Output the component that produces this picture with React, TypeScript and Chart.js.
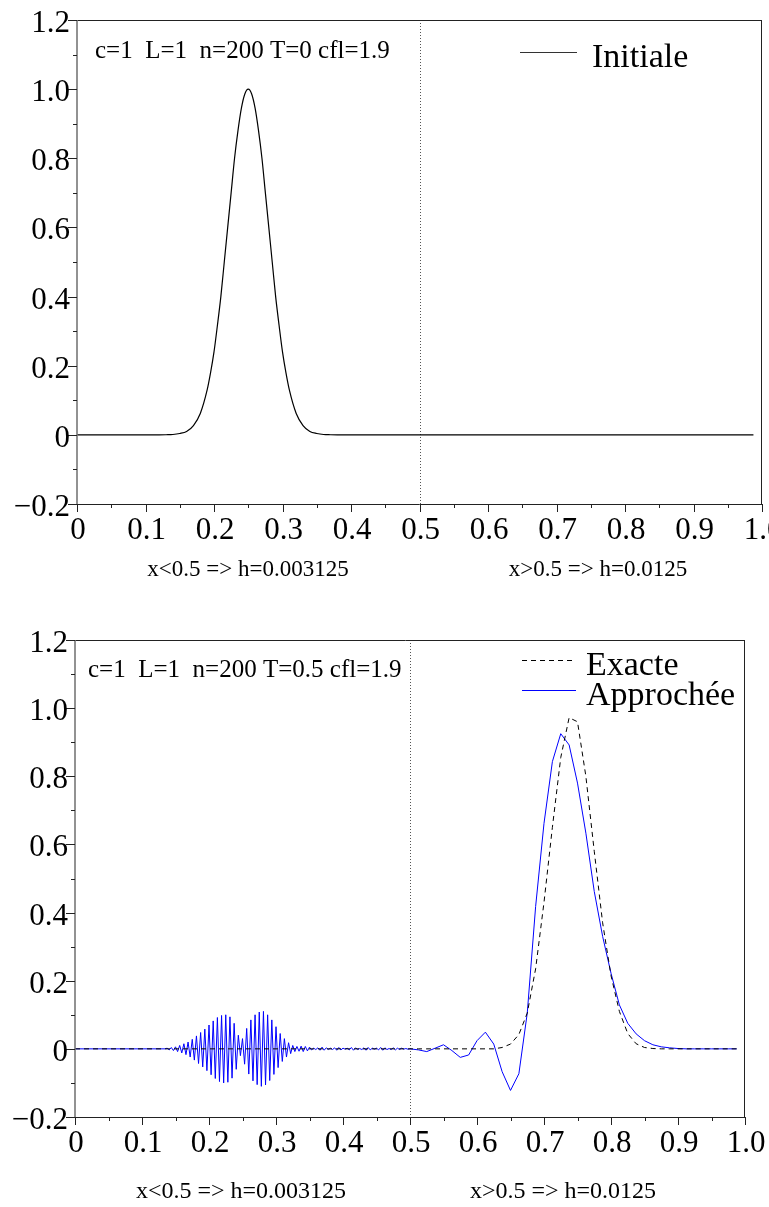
import React, { useEffect, useRef } from 'react';
import { Chart, registerables } from 'chart.js';

Chart.register(...registerables);

const FONT = "'Liberation Serif', 'Times New Roman', Times, serif";

// ---------- data ----------
const fineStep = 0.003125; // x < 0.5
const coarseStep = 0.0125; // x > 0.5

// Initial condition (top chart)
const initX = [0, 0.12, 0.13, 0.14, 0.15, 0.16, 0.17, 0.18, 0.19, 0.195, 0.2, 0.205, 0.21, 0.215, 0.22, 0.225, 0.23, 0.235, 0.24, 0.245, 0.25, 0.255, 0.26, 0.265, 0.27, 0.275, 0.28, 0.285, 0.29, 0.295, 0.3, 0.305, 0.31, 0.32, 0.33, 0.34, 0.35, 0.36, 0.37, 0.38, 0.5, 0.9875];
const initY = [0, 0, 0.0003, 0.001, 0.004, 0.01, 0.027, 0.062, 0.13, 0.18, 0.24, 0.317, 0.4, 0.5, 0.6, 0.7, 0.8, 0.88, 0.945, 0.986, 1.0, 0.986, 0.945, 0.88, 0.8, 0.7, 0.6, 0.5, 0.4, 0.317, 0.24, 0.18, 0.13, 0.062, 0.027, 0.01, 0.004, 0.001, 0.0003, 0, 0, 0];

// Approximate solution, fine grid, from index 44 to 159 (x = i * fineStep)
const approxLeftStart = 44;
const approxLeftY = [
  0.002, -0.003, 0.004, -0.005, 0.006, -0.008, 0.01, -0.012, 0.015, -0.017,
  0.02, -0.024, 0.028, -0.033, 0.038, -0.043, 0.048, -0.053, 0.058, -0.064,
  0.07, -0.076, 0.082, -0.087, 0.092, -0.096, 0.098, -0.1, 0.1, -0.098,
  0.094, -0.086, 0.075, -0.06, 0.04, -0.02, 0.03, -0.045, 0.06, -0.074,
  0.085, -0.094, 0.1, -0.105, 0.108, -0.11, 0.11, -0.106, 0.1, -0.093,
  0.085, -0.075, 0.065, -0.055, 0.045, -0.037, 0.03, -0.024, 0.018, -0.014,
  0.01, -0.008, 0.007, -0.007, 0.008, -0.008, 0.007, -0.006, 0.005, -0.003,
  0.002, -0.002, 0.003, -0.004, 0.005, -0.004, 0.003, -0.002, 0.002, -0.002,
  0.003, -0.004, 0.004, -0.003, 0.002, -0.001, 0.002, -0.003, 0.004, -0.004,
  0.003, -0.002, 0.001, -0.002, 0.003, -0.004, 0.004, -0.003, 0.002, -0.001,
  0.002, -0.003, 0.004, -0.004, 0.003, -0.002, 0.001, -0.002, 0.003, -0.003,
  0.002, -0.002, 0.002, -0.001, 0.001, -0.001,
];
// Approximate solution, coarse grid (x = 0.5 + k * coarseStep), k = 0..39
const approxRightY = [
  0, -0.003, -0.008, 0.002, 0.012, -0.005, -0.025, -0.018, 0.024, 0.049,
  0.014, -0.067, -0.122, -0.073, 0.105, 0.418, 0.662, 0.843, 0.925, 0.892,
  0.78, 0.633, 0.462, 0.33, 0.222, 0.129, 0.075, 0.044, 0.024, 0.012,
  0.006, 0.003, 0.001, 0, 0, 0, 0, 0, 0, 0,
];
// Exact solution on coarse grid
const exactRightY = [
  0, 0, 0, 0, 0, 0, 0, 0, 0, 0,
  0, 0.004, 0.014, 0.042, 0.105, 0.235, 0.43, 0.65, 0.855, 0.972,
  0.96, 0.8, 0.58, 0.37, 0.215, 0.11, 0.045, 0.015, 0.004, 0.001,
  0, 0, 0, 0, 0, 0, 0, 0, 0, 0,
];

const xTickValues = [0, 0.1, 0.2, 0.3, 0.4, 0.5, 0.6, 0.7, 0.8, 0.9, 1.0];
const xTickLabels = ['0', '0.1', '0.2', '0.3', '0.4', '0.5', '0.6', '0.7', '0.8', '0.9', '1.0'];
const xMinorValues = [0.05, 0.15, 0.25, 0.35, 0.45, 0.55, 0.65, 0.75, 0.85, 0.95];
const yTickValues = [-0.2, 0, 0.2, 0.4, 0.6, 0.8, 1.0, 1.2];
const yTickLabels = ['\u22120.2', '0', '0.2', '0.4', '0.6', '0.8', '1.0', '1.2'];
const yMinorValues = [-0.1, 0.1, 0.3, 0.5, 0.7, 0.9, 1.1];

const topInfo = 'c=1  L=1  n=200 T=0 cfl=1.9';
const bottomInfo = 'c=1  L=1  n=200 T=0.5 cfl=1.9';
const stepNotes = ['x<0.5 => h=0.003125', 'x>0.5 => h=0.0125'];
const topLegend = ['Initiale'];
const bottomLegend = ['Exacte', 'Approch\u00e9e'];

// ---------- drawing plugin ----------
const framePlugin = {
  id: 'frame',
  beforeDatasetsDraw(chart: any) {
    const { ctx, chartArea } = chart;
    const px = Math.round(chart.scales.x.getPixelForValue(0.5)) + 0.5;
    ctx.save();
    ctx.strokeStyle = '#555';
    ctx.lineWidth = 1;
    ctx.setLineDash([1, 2]);
    ctx.beginPath();
    ctx.moveTo(px, chartArea.top);
    ctx.lineTo(px, chartArea.bottom);
    ctx.stroke();
    ctx.restore();
  },
  afterDraw(chart: any, _a: any, o: any) {
    const { ctx, chartArea } = chart;
    const { left, right, top, bottom } = chartArea;
    const xs = chart.scales.x;
    const ys = chart.scales.y;
    ctx.save();
    ctx.setLineDash([]);
    // frame
    ctx.strokeStyle = '#222';
    ctx.lineWidth = 1;
    ctx.beginPath();
    ctx.moveTo(left - 9, Math.round(top) + 0.5);
    ctx.lineTo(right, Math.round(top) + 0.5);
    ctx.moveTo(Math.round(right) - 0.5, top);
    ctx.lineTo(Math.round(right) - 0.5, bottom);
    ctx.moveTo(left, Math.round(bottom) + 0.5);
    ctx.lineTo(right, Math.round(bottom) + 0.5);
    ctx.stroke();
    ctx.strokeStyle = '#777';
    ctx.lineWidth = 1.6;
    ctx.beginPath();
    ctx.moveTo(left, top);
    ctx.lineTo(left, bottom + 1);
    ctx.stroke();
    // ticks
    ctx.strokeStyle = '#222';
    ctx.lineWidth = 1;
    ctx.beginPath();
    yTickValues.forEach((v) => {
      const y = Math.round(ys.getPixelForValue(v)) + 0.5;
      ctx.moveTo(left - 9, y);
      ctx.lineTo(left, y);
    });
    yMinorValues.forEach((v) => {
      const y = Math.round(ys.getPixelForValue(v)) + 0.5;
      ctx.moveTo(left - 4, y);
      ctx.lineTo(left, y);
    });
    xTickValues.forEach((v) => {
      const x = Math.round(xs.getPixelForValue(v)) + 0.5;
      ctx.moveTo(x, bottom);
      ctx.lineTo(x, bottom + 8);
    });
    xMinorValues.forEach((v) => {
      const x = Math.round(xs.getPixelForValue(v)) + 0.5;
      ctx.moveTo(x, bottom);
      ctx.lineTo(x, bottom + 4);
    });
    ctx.stroke();
    // tick labels
    ctx.fillStyle = '#000';
    ctx.font = `31px ${FONT}`;
    ctx.textBaseline = 'alphabetic';
    ctx.textAlign = 'right';
    yTickValues.forEach((v, i) => {
      ctx.fillText(yTickLabels[i], left - 7, ys.getPixelForValue(v) + 12);
    });
    ctx.textAlign = 'center';
    xTickValues.forEach((v, i) => {
      ctx.fillText(xTickLabels[i], xs.getPixelForValue(v) + 1, bottom + 35);
    });
    // info text
    ctx.textAlign = 'left';
    ctx.font = `25px ${FONT}`;
    ctx.fillText(o.info, o.infoX, o.infoY);
    // step notes
    ctx.textAlign = 'center';
    ctx.font = `${o.noteSize}px ${FONT}`;
    stepNotes.forEach((t, i) => {
      ctx.fillText(t, o.noteX[i], bottom + o.noteDy);
    });
    // legend
    ctx.textAlign = 'left';
    ctx.font = `34px ${FONT}`;
    o.legend.forEach((item: any) => {
      ctx.strokeStyle = item.color;
      ctx.lineWidth = 1;
      ctx.setLineDash(item.dash || []);
      ctx.beginPath();
      ctx.moveTo(item.x0, item.ly + 0.5);
      ctx.lineTo(item.x1, item.ly + 0.5);
      ctx.stroke();
      ctx.setLineDash([]);
      ctx.fillStyle = '#000';
      ctx.fillText(item.text, item.tx, item.ty);
    });
    ctx.restore();
  },
};

function baseOptions(padding: any, frame: any) {
  return {
    responsive: false,
    animation: false as const,
    layout: { padding },
    elements: { point: { radius: 0 } },
    scales: {
      x: { type: 'linear' as const, min: 0, max: 1, display: false },
      y: { type: 'linear' as const, min: -0.2, max: 1.2, display: false },
    },
    plugins: {
      legend: { display: false },
      tooltip: { enabled: false },
      frame,
    },
  };
}

function TopChart() {
  const ref = useRef<HTMLCanvasElement>(null);
  useEffect(() => {
    const data = initX.map((x, i) => ({ x, y: initY[i] }));
    const chart = new Chart(ref.current!, {
      type: 'line',
      data: {
        datasets: [
          {
            label: topLegend[0],
            data,
            borderColor: '#000',
            borderWidth: 1.2,
            cubicInterpolationMode: 'monotone',
            fill: false,
          },
        ],
      },
      options: baseOptions(
        { top: 20, left: 77, right: 7, bottom: 96 },
        {
          info: topInfo,
          infoX: 95,
          infoY: 58,
          noteX: [248, 598],
          noteDy: 72,
          noteSize: 23,
          legend: [
            { text: topLegend[0], color: '#333', x0: 520, x1: 577, ly: 52, tx: 592, ty: 67 },
          ],
        }
      ) as any,
      plugins: [framePlugin],
    });
    return () => chart.destroy();
  }, []);
  return <canvas ref={ref} width={769} height={600} style={{ display: 'block' }} />;
}

function BottomChart() {
  const ref = useRef<HTMLCanvasElement>(null);
  useEffect(() => {
    const approx: { x: number; y: number }[] = [{ x: 0, y: 0 }, { x: (approxLeftStart - 1) * fineStep, y: 0 }];
    approxLeftY.forEach((y, j) => approx.push({ x: (approxLeftStart + j) * fineStep, y }));
    approxRightY.forEach((y, k) => approx.push({ x: 0.5 + k * coarseStep, y }));
    const exact: { x: number; y: number }[] = [{ x: 0, y: 0 }];
    exactRightY.forEach((y, k) => exact.push({ x: 0.5 + k * coarseStep, y }));
    const chart = new Chart(ref.current!, {
      type: 'line',
      data: {
        datasets: [
          {
            label: bottomLegend[0],
            data: exact,
            borderColor: '#000',
            borderWidth: 1,
            borderDash: [5, 4],
            tension: 0,
            fill: false,
          },
          {
            label: bottomLegend[1],
            data: approx,
            borderColor: '#0000ff',
            borderWidth: 1,
            tension: 0,
            fill: false,
          },
        ],
      },
      options: baseOptions(
        { top: 40, left: 75, right: 24, bottom: 90 },
        {
          info: bottomInfo,
          infoX: 88,
          infoY: 77,
          noteX: [241, 563],
          noteDy: 81,
          noteSize: 24,
          legend: [
            { text: bottomLegend[0], color: '#000', dash: [5, 4], x0: 522, x1: 572, ly: 60, tx: 586, ty: 75 },
            { text: bottomLegend[1], color: '#0000ff', x0: 522, x1: 576, ly: 90, tx: 586, ty: 105 },
          ],
        }
      ) as any,
      plugins: [framePlugin],
    });
    return () => chart.destroy();
  }, []);
  return <canvas ref={ref} width={769} height={607} style={{ display: 'block' }} />;
}

export default function App() {
  return (
    <div style={{ position: 'absolute', left: 0, top: 0, width: 769, height: 1207, background: '#fff' }}>
      <TopChart />
      <BottomChart />
    </div>
  );
}
